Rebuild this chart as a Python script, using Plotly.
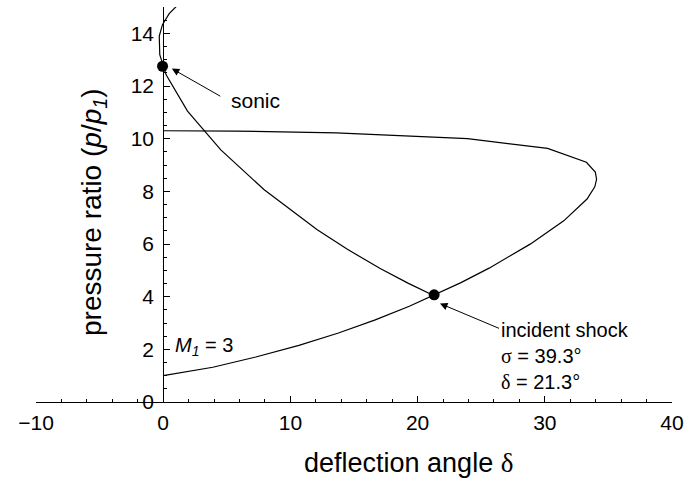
import plotly.graph_objects as go

# ---- data ----
# main shock polar, M1 = 3 : deflection angle (deg) and pressure ratio
delta_main = [0.0, 3.9, 7.28, 10.67, 13.78, 16.67, 19.35, 21.26, 23.41, 25.62,
              28.85, 31.49, 33.32, 33.93, 34.07, 33.97, 33.27, 30.22, 23.93,
              13.60, 5.67, 0.0]
p_main = [1.0, 1.32, 1.708, 2.148, 2.619, 3.117, 3.636, 4.046, 4.534, 5.083,
          5.995, 6.879, 7.708, 8.17, 8.458, 8.73, 9.105, 9.630, 10.0,
          10.22, 10.29, 10.30]

# reflected shock polar, starting from the incident-shock point
delta_refl = [21.26, 19.28, 17.06, 14.48, 12.11, 7.94, 4.53, 1.91, 0.23,
              -0.27, -0.31, -0.05, 0.47, 1.24]
p_refl = [4.046, 4.505, 5.071, 5.798, 6.541, 8.058, 9.574, 11.044, 12.424,
          13.19, 13.90, 14.34, 14.747, 15.123]

# marked points: sonic point and incident shock point
pt_delta = [-0.05, 21.3]
pt_p = [12.75, 4.07]

x_ticks = [-10, 0, 10, 20, 30, 40]
y_ticks = [0, 2, 4, 6, 8, 10, 12, 14]

FONT = "Liberation Sans, Arial, sans-serif"
SERIF = "Liberation Serif"

fig = go.Figure()
fig.add_trace(go.Scatter(x=delta_main, y=p_main, mode="lines",
                         line=dict(color="black", width=1.2),
                         showlegend=False, hoverinfo="skip"))
fig.add_trace(go.Scatter(x=delta_refl, y=p_refl, mode="lines",
                         line=dict(color="black", width=1.2),
                         showlegend=False, hoverinfo="skip"))
fig.add_trace(go.Scatter(x=pt_delta, y=pt_p, mode="markers",
                         marker=dict(color="black", size=11),
                         showlegend=False, hoverinfo="skip", cliponaxis=False))

fig.update_layout(
    width=696, height=481,
    margin=dict(l=36, r=24, t=7, b=79),
    paper_bgcolor="white", plot_bgcolor="white",
    font=dict(family=FONT, color="black", size=21),
    xaxis=dict(range=[-10, 40], domain=[0, 1], anchor="y",
               showline=True, linecolor="black", linewidth=1,
               showgrid=False, zeroline=False,
               tickmode="array", tickvals=x_ticks,
               ticks="inside", ticklen=6, tickwidth=1, tickcolor="black",
               ticklabelstandoff=2,
               minor=dict(dtick=2, tick0=0, ticks="inside", ticklen=3,
                          tickwidth=1, tickcolor="black", showgrid=False),
               tickfont=dict(family=FONT, size=21, color="black")),
    yaxis=dict(range=[0, 15], domain=[0, 1], anchor="free", position=0.2,
               showline=True, linecolor="black", linewidth=1,
               showgrid=False, zeroline=False,
               tickmode="array", tickvals=y_ticks,
               ticks="inside", ticklen=6, tickwidth=1, tickcolor="black",
               ticklabelstandoff=5,
               minor=dict(dtick=0.5, tick0=0, ticks="inside", ticklen=3,
                          tickwidth=1, tickcolor="black", showgrid=False),
               tickfont=dict(family=FONT, size=21, color="black")),
)

annotations = [
    # axis titles
    dict(text="deflection angle <span style='font-family:Liberation Serif'>δ</span>",
         xref="paper", yref="paper", x=0.585, y=-0.154,
         xanchor="center", yanchor="middle", showarrow=False,
         font=dict(size=27)),
    dict(text="pressure ratio (<i>p</i>/<i>p</i><sub><i>1</i></sub>)",
         xref="paper", yref="paper", x=0.0896, y=0.481, textangle=-90,
         xanchor="center", yanchor="middle", showarrow=False,
         font=dict(size=28)),
    # sonic arrow
    dict(x=0.68, y=12.66, ax=4.61, ay=11.58, xref="x", yref="y",
         axref="x", ayref="y", text="", showarrow=True, arrowhead=2,
         arrowsize=1.5, arrowwidth=1, arrowcolor="black"),
    dict(text="sonic", x=5.2, y=11.46, xref="x", yref="y",
         xanchor="left", yanchor="middle", showarrow=False, font=dict(size=21)),
    # incident shock label with its arrow
    dict(text="incident shock<br>"
              "<span style='font-family:Liberation Serif'>σ</span> = 39.3°<br>"
              "<span style='font-family:Liberation Serif'>δ</span> = 21.3°",
         x=21.76, y=3.74, xref="x", yref="y",
         ax=31.55, ay=1.75, axref="x", ayref="y", align="left",
         showarrow=True, arrowhead=2, arrowsize=1.5, arrowwidth=1,
         arrowcolor="black", font=dict(size=20)),
    dict(text="<i>M<sub>1</sub></i> = 3", x=0.76, y=2.10, xref="x", yref="y",
         xanchor="left", yanchor="middle", showarrow=False, font=dict(size=20)),
]
fig.update_layout(annotations=annotations)

fig.write_html("out.html")
